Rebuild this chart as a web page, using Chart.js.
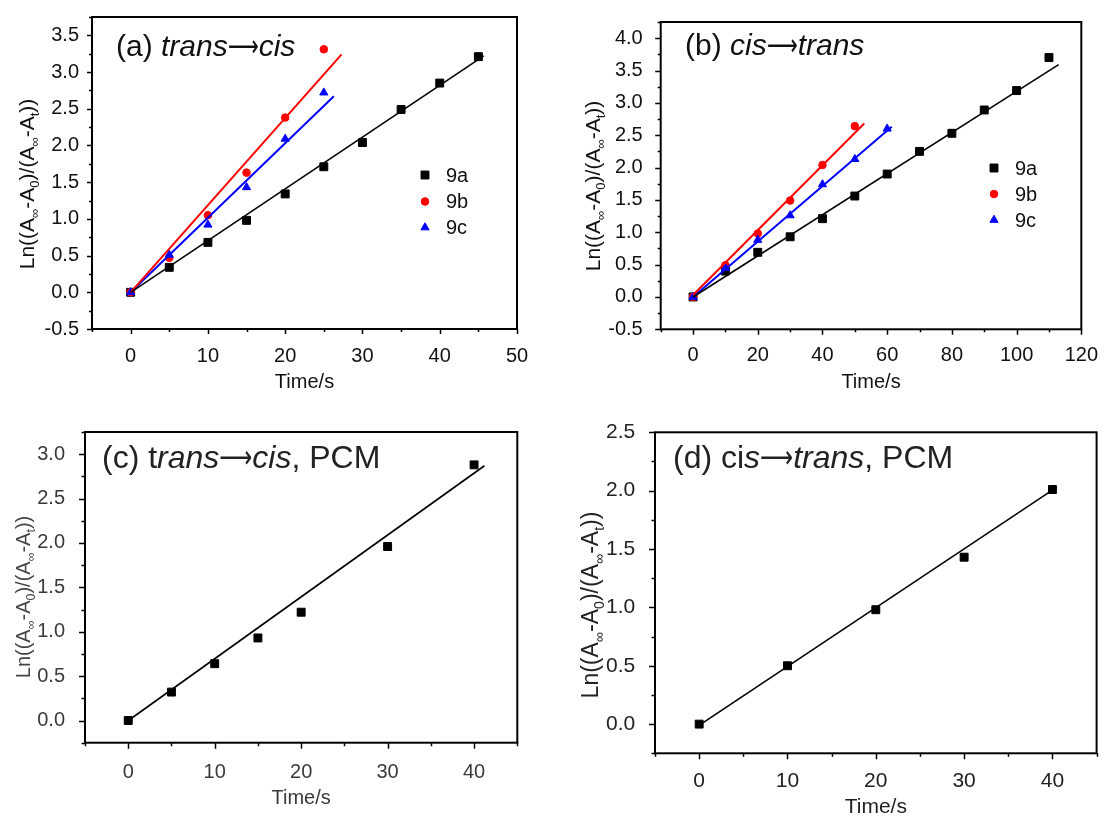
<!DOCTYPE html>
<html><head><meta charset="utf-8">
<script src="https://cdn.jsdelivr.net/npm/chart.js@4.4.1/dist/chart.umd.min.js"></script>
<style>
html,body{margin:0;padding:0;background:#fff;}
#wrap{position:relative;width:1104px;height:816px;overflow:hidden;background:#fff;}
canvas{position:absolute;}
</style></head><body>
<div id="wrap">
<canvas id="pa" width="552" height="408" style="left:0;top:0;width:552px;height:408px"></canvas>
<canvas id="pb" width="552" height="408" style="left:552px;top:0;width:552px;height:408px"></canvas>
<canvas id="pc" width="552" height="408" style="left:0;top:408px;width:552px;height:408px"></canvas>
<canvas id="pd" width="552" height="408" style="left:552px;top:408px;width:552px;height:408px"></canvas>
</div>
<script>
// ---------- DATA ----------
// Panel (a) trans->cis
const timeA9a = [0, 5, 10, 15, 20, 25, 30, 35, 40, 45];
const lnA9a   = [0, 0.34, 0.68, 0.98, 1.34, 1.71, 2.04, 2.49, 2.85, 3.21];
const timeA9b = [0, 5, 10, 15, 20, 25];
const lnA9b   = [0, 0.47, 1.05, 1.63, 2.38, 3.31];
const timeA9c = [0, 5, 10, 15, 20, 25];
const lnA9c   = [0, 0.51, 0.92, 1.43, 2.09, 2.72];
const fitA9aX = [0, 45.7], fitA9aY = [0, 3.22];
const fitA9bX = [0, 27.3], fitA9bY = [0, 3.24];
const fitA9cX = [0, 26.3], fitA9cY = [0, 2.67];

// Panel (b) cis->trans
const timeB9a = [0, 10, 20, 30, 40, 50, 60, 70, 80, 90, 100, 110];
const lnB9a   = [0, 0.40, 0.69, 0.93, 1.21, 1.56, 1.90, 2.25, 2.53, 2.89, 3.19, 3.70];
const timeB9b = [0, 10, 20, 30, 40, 50];
const lnB9b   = [0, 0.49, 0.98, 1.49, 2.04, 2.64];
const timeB9c = [0, 10, 20, 30, 40, 50, 60];
const lnB9c   = [0, 0.45, 0.88, 1.26, 1.74, 2.13, 2.60];
const fitB9aX = [0, 113], fitB9aY = [0, 3.59];
const fitB9bX = [0, 52.9], fitB9bY = [0.03, 2.68];
const fitB9cX = [0, 61.4], fitB9cY = [0, 2.63];

// Panel (c) trans->cis, PCM
const timeC = [0, 5, 10, 15, 20, 30, 40];
const lnC   = [0, 0.32, 0.64, 0.93, 1.22, 1.96, 2.88];
const fitCX = [0.3, 41.2], fitCY = [0.02, 2.87];

// Panel (d) cis->trans, PCM
const timeD = [0, 10, 20, 30, 40];
const lnD   = [0, 0.50, 0.98, 1.43, 2.01];
const fitDX = [0.2, 40.5], fitDY = [0, 2.03];

// Axis tick definitions
const xTicksA = {min: -5, max: 50, major: 10, minor: 5};
const yTicksA = {min: -0.5, max: 3.75, major: 0.5, minor: 0.25};
const xTicksB = {min: -10, max: 120, major: 20, minor: 10};
const yTicksB = {min: -0.5, max: 4.25, major: 0.5, minor: 0.25};
const xTicksC = {min: -5, max: 45, major: 10, minor: 5};
const yTicksC = {min: -0.25, max: 3.25, major: 0.5, minor: 0.25};
const xTicksD = {min: -5, max: 45, major: 10, minor: 5};
const yTicksD = {min: -0.25, max: 2.5, major: 0.5, minor: 0.25};

const seriesNames = ['9a', '9b', '9c'];

// ---------- HELPERS ----------
const FONT = '"Liberation Sans", Arial, Helvetica, sans-serif';
function isMul(v, s) { const r = v / s; return Math.abs(r - Math.round(r)) < 1e-6; }
function pts(xs, ys) { return xs.map((x, i) => ({x: x, y: ys[i]})); }

function fontStr(s, size) {
  const fs = s.sub ? size * 0.62 : size;
  return (s.i ? 'italic ' : '') + fs + 'px ' + (s.f || FONT);
}
function segWidth(ctx, s, size) {
  ctx.font = fontStr(s, size);
  return ctx.measureText(s.t).width * (s.sx || 1);
}
function richWidth(ctx, segs, size) {
  let w = 0;
  for (const s of segs) w += segWidth(ctx, s, size);
  return w;
}
function drawRich(ctx, segs, x, yBase, size, color) {
  ctx.fillStyle = color; ctx.textBaseline = 'alphabetic'; ctx.textAlign = 'left';
  let cx = x;
  for (const s of segs) {
    ctx.font = fontStr(s, size);
    const dy = s.sub ? size * 0.24 : 0;
    const w = segWidth(ctx, s, size);
    if (s.sx) {
      ctx.save();
      ctx.translate(cx, yBase + dy);
      ctx.scale(s.sx, 1);
      ctx.fillText(s.t, 0, 0);
      ctx.restore();
    } else {
      ctx.fillText(s.t, cx, yBase + dy);
    }
    cx += w;
  }
}
function drawMarker(ctx, style, r, x, y, color) {
  ctx.save();
  ctx.fillStyle = color; ctx.strokeStyle = color; ctx.lineWidth = 1;
  ctx.beginPath();
  if (style === 'rect') {
    const s = Math.SQRT1_2 * r;
    ctx.rect(x - s, y - s, 2 * s, 2 * s);
  } else if (style === 'circle') {
    ctx.arc(x, y, r, 0, Math.PI * 2);
  } else {
    const a = Math.PI * 2 / 3;
    ctx.moveTo(x, y - r);
    ctx.lineTo(x + Math.sin(a) * r, y - Math.cos(a) * r);
    ctx.lineTo(x + Math.sin(2 * a) * r, y - Math.cos(2 * a) * r);
    ctx.closePath();
  }
  ctx.fill(); ctx.stroke();
  ctx.restore();
}

const yTitleSegs = [
  {t: 'Ln((A'}, {t: '\u221E', sub: true}, {t: '-A'}, {t: '0', sub: true},
  {t: ')/(A'}, {t: '\u221E', sub: true}, {t: '-A'}, {t: 't', sub: true}, {t: '))'}
];
const ARROW = {t: '\u27F6', f: '"DejaVu Sans", sans-serif', sx: 0.72};

const markerStyle = {
  '9a': {style: 'rect', r: 5.6, color: '#000000'},
  '9b': {style: 'circle', r: 3.8, color: '#ff0000'},
  '9c': {style: 'triangle', r: 4.7, color: '#0000ff'}
};

function makeFramePlugin(spec) {
  return {
    id: 'frame_' + spec.id,
    afterDraw(chart) {
      const ctx = chart.ctx;
      const ca = chart.chartArea;
      const xs = chart.scales.x, ys = chart.scales.y;
      ctx.save();
      // ticks
      ctx.strokeStyle = '#000'; ctx.lineWidth = 1.5;
      ctx.beginPath();
      for (const t of xs.ticks) {
        const px = Math.round(xs.getPixelForValue(t.value)) + 0.5;
        const len = isMul(t.value, spec.x.major) ? spec.majLen : spec.minLen;
        ctx.moveTo(px, ca.bottom); ctx.lineTo(px, ca.bottom + len);
      }
      for (const t of ys.ticks) {
        const py = Math.round(ys.getPixelForValue(t.value)) + 0.5;
        const len = isMul(t.value, spec.y.major) ? spec.majLen : spec.minLen;
        ctx.moveTo(ca.left, py); ctx.lineTo(ca.left - len, py);
      }
      ctx.stroke();
      // frame
      ctx.lineWidth = 2;
      ctx.strokeRect(ca.left, ca.top, ca.right - ca.left, ca.bottom - ca.top);
      // y title (rich, rotated)
      ctx.translate(spec.yTitle.cx, spec.yTitle.cy);
      ctx.rotate(-Math.PI / 2);
      const w = richWidth(ctx, yTitleSegs, spec.yTitle.size);
      drawRich(ctx, yTitleSegs, -w / 2, spec.yTitle.size * 0.36, spec.yTitle.size, spec.yTitle.color || spec.color);
      ctx.setTransform(1, 0, 0, 1, 0, 0);
      // panel label
      drawRich(ctx, spec.label.segs, spec.label.x, spec.label.base, spec.label.size, spec.labelColor);
      // legend
      if (spec.legend) {
        spec.legend.names.forEach((n, i) => {
          const m = markerStyle[n];
          const y = spec.legend.ys[i];
          drawMarker(ctx, m.style, m.r, spec.legend.mx, y, m.color);
          ctx.fillStyle = spec.color; ctx.font = spec.legend.size + 'px ' + FONT;
          ctx.textAlign = 'left'; ctx.textBaseline = 'middle';
          ctx.fillText(n, spec.legend.tx, y + 1);
        });
      }
      ctx.restore();
    }
  };
}

function scatterDs(name, xs, ys) {
  const m = markerStyle[name];
  return {label: name, data: pts(xs, ys), showLine: false, pointStyle: m.style,
    pointRadius: m.r, pointBackgroundColor: m.color, pointBorderColor: m.color,
    pointBorderWidth: 1, backgroundColor: m.color, borderColor: m.color};
}
function fitDs(color, xs, ys, width) {
  return {label: 'fit', data: pts(xs, ys), showLine: true, pointRadius: 0,
    borderColor: color, borderWidth: width, fill: false, tension: 0};
}

function makeChart(spec, datasets) {
  const W = 552, H = 408;
  const a = spec.area;
  return new Chart(document.getElementById(spec.id), {
    type: 'scatter',
    data: {datasets: datasets},
    options: {
      responsive: false, animation: false, events: [], devicePixelRatio: 1,
      layout: {padding: {left: 0, top: a.top, right: W - a.right, bottom: 0}},
      plugins: {legend: {display: false}, tooltip: {enabled: false}},
      scales: {
        x: {
          type: 'linear', min: spec.x.min, max: spec.x.max,
          grid: {display: false}, border: {display: false},
          ticks: {stepSize: spec.x.minor, autoSkip: false, maxRotation: 0, minRotation: 0,
            maxTicksLimit: 500, padding: spec.xPad, color: spec.color,
            font: {family: FONT, size: spec.tickSize},
            callback: (v) => isMul(v, spec.x.major) ? String(Math.round(v)) : ''},
          title: {display: true, text: 'Time/s', color: spec.color,
            font: {family: FONT, size: spec.xTitle.size, lineHeight: spec.xTitle.lh},
            padding: {top: 0, bottom: spec.xTitle.pad}},
          afterFit: (s) => { s.height = H - a.bottom; }
        },
        y: {
          type: 'linear', min: spec.y.min, max: spec.y.max,
          grid: {display: false}, border: {display: false},
          ticks: {stepSize: spec.y.minor, autoSkip: false, maxTicksLimit: 500,
            padding: spec.yPad, color: spec.color,
            font: {family: FONT, size: spec.tickSize},
            callback: (v) => isMul(v, spec.y.major) ? v.toFixed(1) : ''},
          afterFit: (s) => { s.width = a.left; }
        }
      }
    },
    plugins: [makeFramePlugin(spec)]
  });
}

// ---------- PANELS ----------
makeChart({
  id: 'pa', area: {left: 92, top: 14, right: 517, bottom: 329},
  x: xTicksA, y: yTicksA, tickSize: 20, xPad: 7, yPad: 5, majLen: 5, minLen: 3,
  color: '#111', labelColor: '#111',
  xTitle: {size: 20, lh: 1.2, pad: 14},
  yTitle: {cx: 26, cy: 184, size: 21},
  label: {x: 116, base: 56, size: 30, segs: [{t: '(a) '}, {t: 'trans', i: true}, ARROW, {t: 'cis', i: true}]},
  legend: {names: seriesNames, mx: 425, tx: 446, ys: [175, 201.5, 227.5], size: 20}
}, [
  fitDs('#000', fitA9aX, fitA9aY, 1.6),
  fitDs('#ff0000', fitA9bX, fitA9bY, 2),
  fitDs('#0000ff', fitA9cX, fitA9cY, 2),
  scatterDs('9c', timeA9c, lnA9c),
  scatterDs('9b', timeA9b, lnA9b),
  scatterDs('9a', timeA9a, lnA9a)
]);

makeChart({
  id: 'pb', area: {left: 108.7, top: 14, right: 533, bottom: 329.3},
  x: xTicksB, y: yTicksB, tickSize: 20, xPad: 6, yPad: 10, majLen: 5.5, minLen: 3,
  color: '#111', labelColor: '#111',
  xTitle: {size: 20, lh: 1.2, pad: 14},
  yTitle: {cx: 40, cy: 186, size: 21},
  label: {x: 133, base: 55, size: 30, segs: [{t: '(b) '}, {t: 'cis', i: true}, ARROW, {t: 'trans', i: true}]},
  legend: {names: seriesNames, mx: 442, tx: 463, ys: [168, 194, 220], size: 20}
}, [
  fitDs('#000', fitB9aX, fitB9aY, 1.6),
  fitDs('#ff0000', fitB9bX, fitB9bY, 2),
  fitDs('#0000ff', fitB9cX, fitB9cY, 2),
  scatterDs('9c', timeB9c, lnB9c),
  scatterDs('9b', timeB9b, lnB9b),
  scatterDs('9a', timeB9a, lnB9a)
]);

makeChart({
  id: 'pc', area: {left: 85, top: 16, right: 517.3, bottom: 334.7},
  x: xTicksC, y: yTicksC, tickSize: 20, xPad: 10, yPad: 12, majLen: 6, minLen: 3.5,
  color: '#3a3a3a', labelColor: '#222',
  xTitle: {size: 20, lh: 1.2, pad: 6},
  yTitle: {cx: 23, cy: 189, size: 20, color: '#444'},
  label: {x: 102, base: 60, size: 32, segs: [{t: '(c) t'}, {t: 'rans', i: true}, ARROW, {t: 'cis', i: true}, {t: ', PCM'}]},
  legend: null
}, [
  fitDs('#000', fitCX, fitCY, 1.6),
  scatterDs('9a', timeC, lnC)
]);

makeChart({
  id: 'pd', area: {left: 103, top: 17, right: 545.7, bottom: 345.3},
  x: xTicksD, y: yTicksD, tickSize: 21, xPad: 7.4, yPad: 11.7, majLen: 6, minLen: 3.5,
  color: '#222', labelColor: '#222',
  xTitle: {size: 21, lh: 0.8, pad: 0},
  yTitle: {cx: 38, cy: 197, size: 23},
  label: {x: 121, base: 59.5, size: 32, segs: [{t: '(d) ci'}, {t: 's', i: true}, ARROW, {t: 'trans', i: true}, {t: ', PCM'}]},
  legend: null
}, [
  fitDs('#000', fitDX, fitDY, 1.6),
  scatterDs('9a', timeD, lnD)
]);
</script>
</body></html>
